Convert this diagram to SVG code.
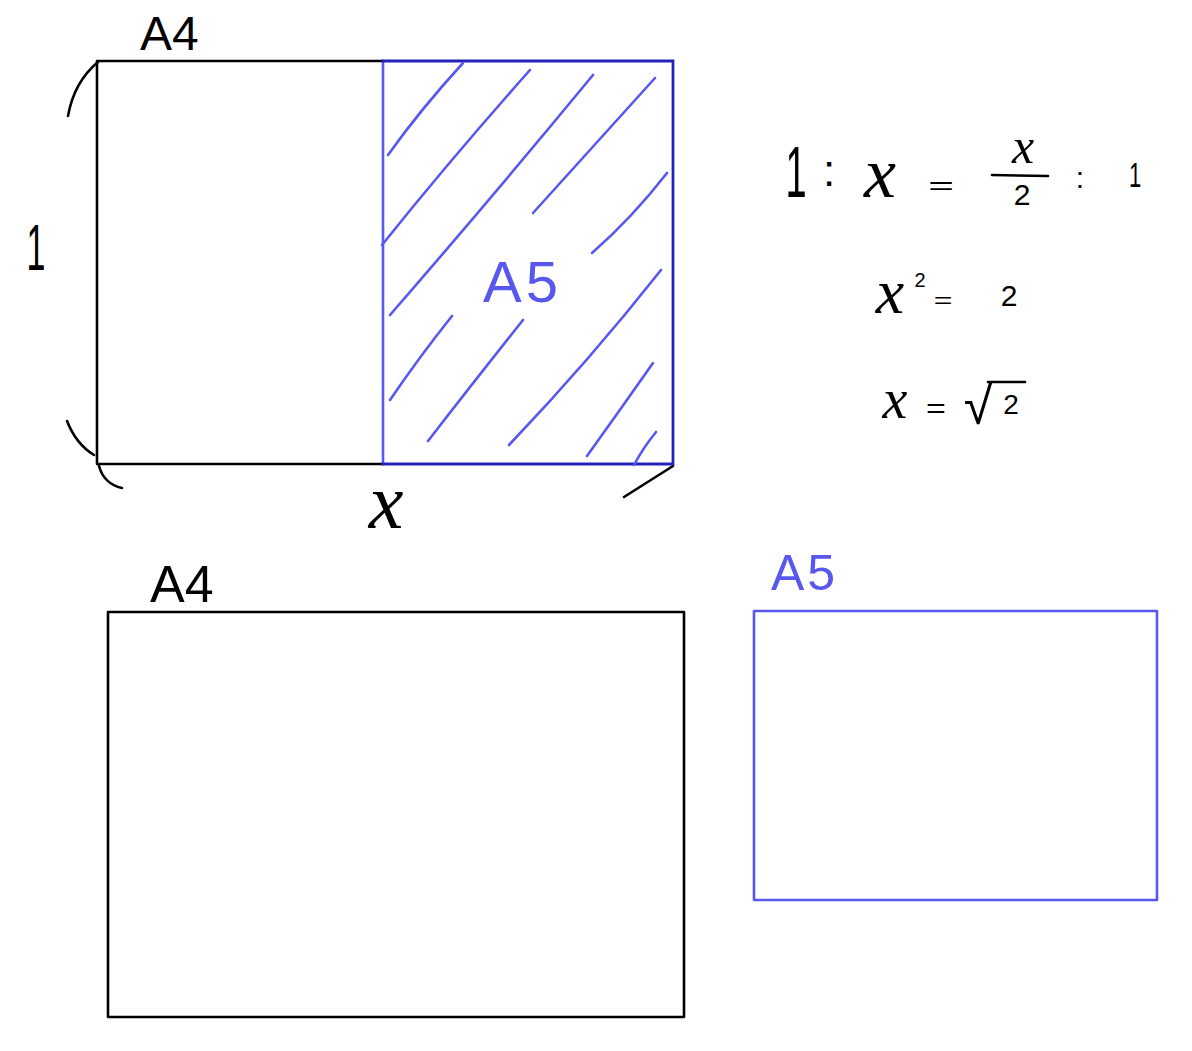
<svg xmlns="http://www.w3.org/2000/svg" width="1192" height="1051" viewBox="0 0 1192 1051">
<style>
.blk{fill:none;stroke:#000;stroke-width:2.6;stroke-linecap:round;stroke-linejoin:round}
.blu{fill:none;stroke:#5858ee;stroke-width:2.6;stroke-linecap:round;stroke-linejoin:round}
.dblu{fill:none;stroke:#2323bb;stroke-width:2.8;stroke-linecap:square}
.hw{font-family:"Liberation Sans",Arial,sans-serif;fill:#000}
.hwb{font-family:"Liberation Sans",Arial,sans-serif;fill:#5858ee}
.var{font-family:"Liberation Serif","Times New Roman",serif;font-style:italic;fill:#000}
</style>
<rect width="1192" height="1051" fill="#fff"/>
<g id="top-a4">
<path class="blk" d="M383,61 L97,61 L97,464 L383,464"/>
<text class="hw" x="140" y="50" font-size="48">A4</text>
<path class="blk" d="M98,62 Q74,82 68,116"/>
<path class="blk" d="M67,421 Q76,444 94,455"/>
<path class="blk" d="M99,466 Q104,484 122,488"/>
<path class="blk" d="M673,466 L624,497"/>
<text class="hw" transform="translate(36,270) scale(1,1.9)" font-size="34" text-anchor="middle">1</text>
<text class="var" x="386" y="528" font-size="78" text-anchor="middle">x</text>
</g>
<g id="top-a5">
<line class="blu" x1="383" y1="62" x2="383" y2="463"/>
<path class="dblu" d="M383,61 L673,61 L673,464 L383,464"/>
<g class="blu">
<path d="M388,155 Q420,110 463,63"/>
<path d="M382,245 Q450,160 530,70"/>
<path d="M390,315 Q490,200 593,75"/>
<path d="M533,213 Q590,150 655,78"/>
<path d="M592,253 Q632,218 667,173"/>
<path d="M390,400 Q420,356 452,316"/>
<path d="M428,441 Q472,384 523,320"/>
<path d="M509,445 Q590,360 661,270"/>
<path d="M587,456 Q620,410 653,363"/>
<path d="M634,465 Q643,448 656,432"/>
</g>
<text class="hwb" x="483" y="302" font-size="58" letter-spacing="4">A5</text>
</g>
<g id="equations">
<text class="hw" transform="translate(796,197) scale(1,1.9)" font-size="38" text-anchor="middle">1</text>
<text class="hw" x="829" y="186" font-size="44" text-anchor="middle">:</text>
<text class="var" x="880" y="197" font-size="72" text-anchor="middle">x</text>
<text class="hw" transform="translate(941,194) scale(1,0.6)" font-size="44" text-anchor="middle">=</text>
<text class="var" x="1023" y="163" font-size="50" text-anchor="middle">x</text>
<line class="blk" x1="992" y1="175" x2="1048" y2="176"/>
<text class="hw" x="1022" y="205" font-size="30" text-anchor="middle">2</text>
<text class="hw" x="1080" y="188" font-size="30" text-anchor="middle">:</text>
<text class="hw" transform="translate(1135,187) scale(1,1.6)" font-size="22" text-anchor="middle">1</text>
<text class="var" x="890" y="313" font-size="64" text-anchor="middle">x</text>
<text class="hw" x="920" y="287" font-size="20" text-anchor="middle">2</text>
<text class="hw" transform="translate(943,308) scale(1,0.7)" font-size="32" text-anchor="middle">=</text>
<text class="hw" x="1009" y="306" font-size="30" text-anchor="middle">2</text>
<text class="var" x="895" y="418" font-size="56" text-anchor="middle">x</text>
<text class="hw" transform="translate(936,418) scale(1,0.8)" font-size="34" text-anchor="middle">=</text>
<text class="hw" x="978" y="424" font-size="52" text-anchor="middle">√</text>
<line class="blk" x1="988" y1="382" x2="1025" y2="382"/>
<text class="hw" x="1011" y="414" font-size="28" text-anchor="middle">2</text>
</g>
<g id="bottom-a4">
<rect class="blk" x="108" y="612" width="576" height="405" stroke-linecap="square"/>
<text class="hw" x="150" y="602" font-size="52">A4</text>
</g>
<g id="bottom-a5">
<rect class="blu" x="754" y="611" width="403" height="289" stroke-linecap="square"/>
<text class="hwb" x="771" y="590" font-size="50" letter-spacing="3">A5</text>
</g>
</svg>
